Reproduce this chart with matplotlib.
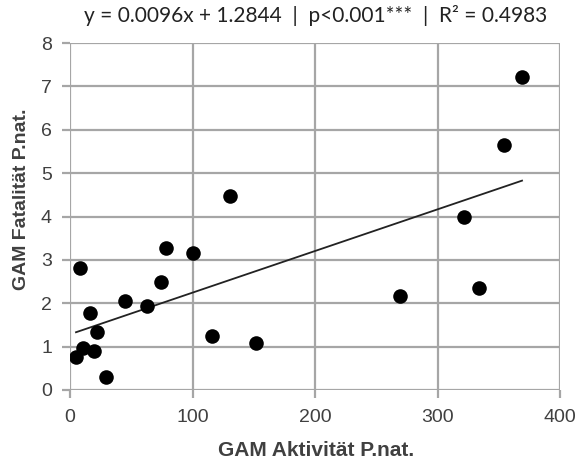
import numpy as np
import matplotlib
matplotlib.use("Agg")
import matplotlib.pyplot as plt

plt.rcParams['font.family'] = ['Liberation Sans', 'DejaVu Sans']

activity = [4.9, 8, 10.6, 16, 19.6, 22, 29, 45, 63, 74, 78, 100, 116, 131, 152, 269, 322, 334, 354, 369]
fatality = [0.76, 2.81, 0.97, 1.77, 0.90, 1.34, 0.30, 2.05, 1.94, 2.49, 3.27, 3.16, 1.24, 4.47, 1.08, 2.17, 3.99, 2.35, 5.65, 7.21]
slope, intercept = 0.0096, 1.2844
title = "y = 0.0096x + 1.2844  |  p<0.001***  |  R² = 0.4983"
xlabel = "GAM Aktivität P.nat."
ylabel = "GAM Fatalität P.nat."

fig = plt.figure(figsize=(5.86, 4.66), dpi=100)
ax = fig.add_axes([70/586, 1-390/466, 490/586, 347/466])

ax.scatter(activity, fatality, s=110, color='black', zorder=3, linewidths=0)
xs = np.array([min(activity), max(activity)])
ax.plot(xs, slope*xs + intercept, color='#222222', lw=1.3, zorder=2)

ax.set_xlim(0, 400)
ax.set_ylim(0, 8)
ax.set_xticks(range(0, 401, 100))
ax.set_yticks(range(0, 9))
ax.grid(True, color='#a6a6a6', lw=1.6)
ax.set_axisbelow(True)
for s in ax.spines.values():
    s.set_visible(False)
ax.tick_params(axis='both', colors='#a6a6a6', labelcolor='#404040', labelsize=14,
               length=6, width=1.6, direction='out')
ax.tick_params(axis='x', pad=8)
ax.tick_params(axis='y', pad=7)

fig.text(316/586, 1-451/466, xlabel, ha='center', va='center', fontsize=15,
         fontweight='bold', color='#404040')
fig.text(22/586, 1-199/466, ylabel, ha='center', va='center', fontsize=14,
         fontweight='bold', color='#404040', rotation=90)
fig.text(316/586, 1-15/466, title, ha='center', va='center', fontsize=15,
         color='#222222', family=['Lato', 'DejaVu Sans'])

fig.savefig('out.png', dpi=100)
